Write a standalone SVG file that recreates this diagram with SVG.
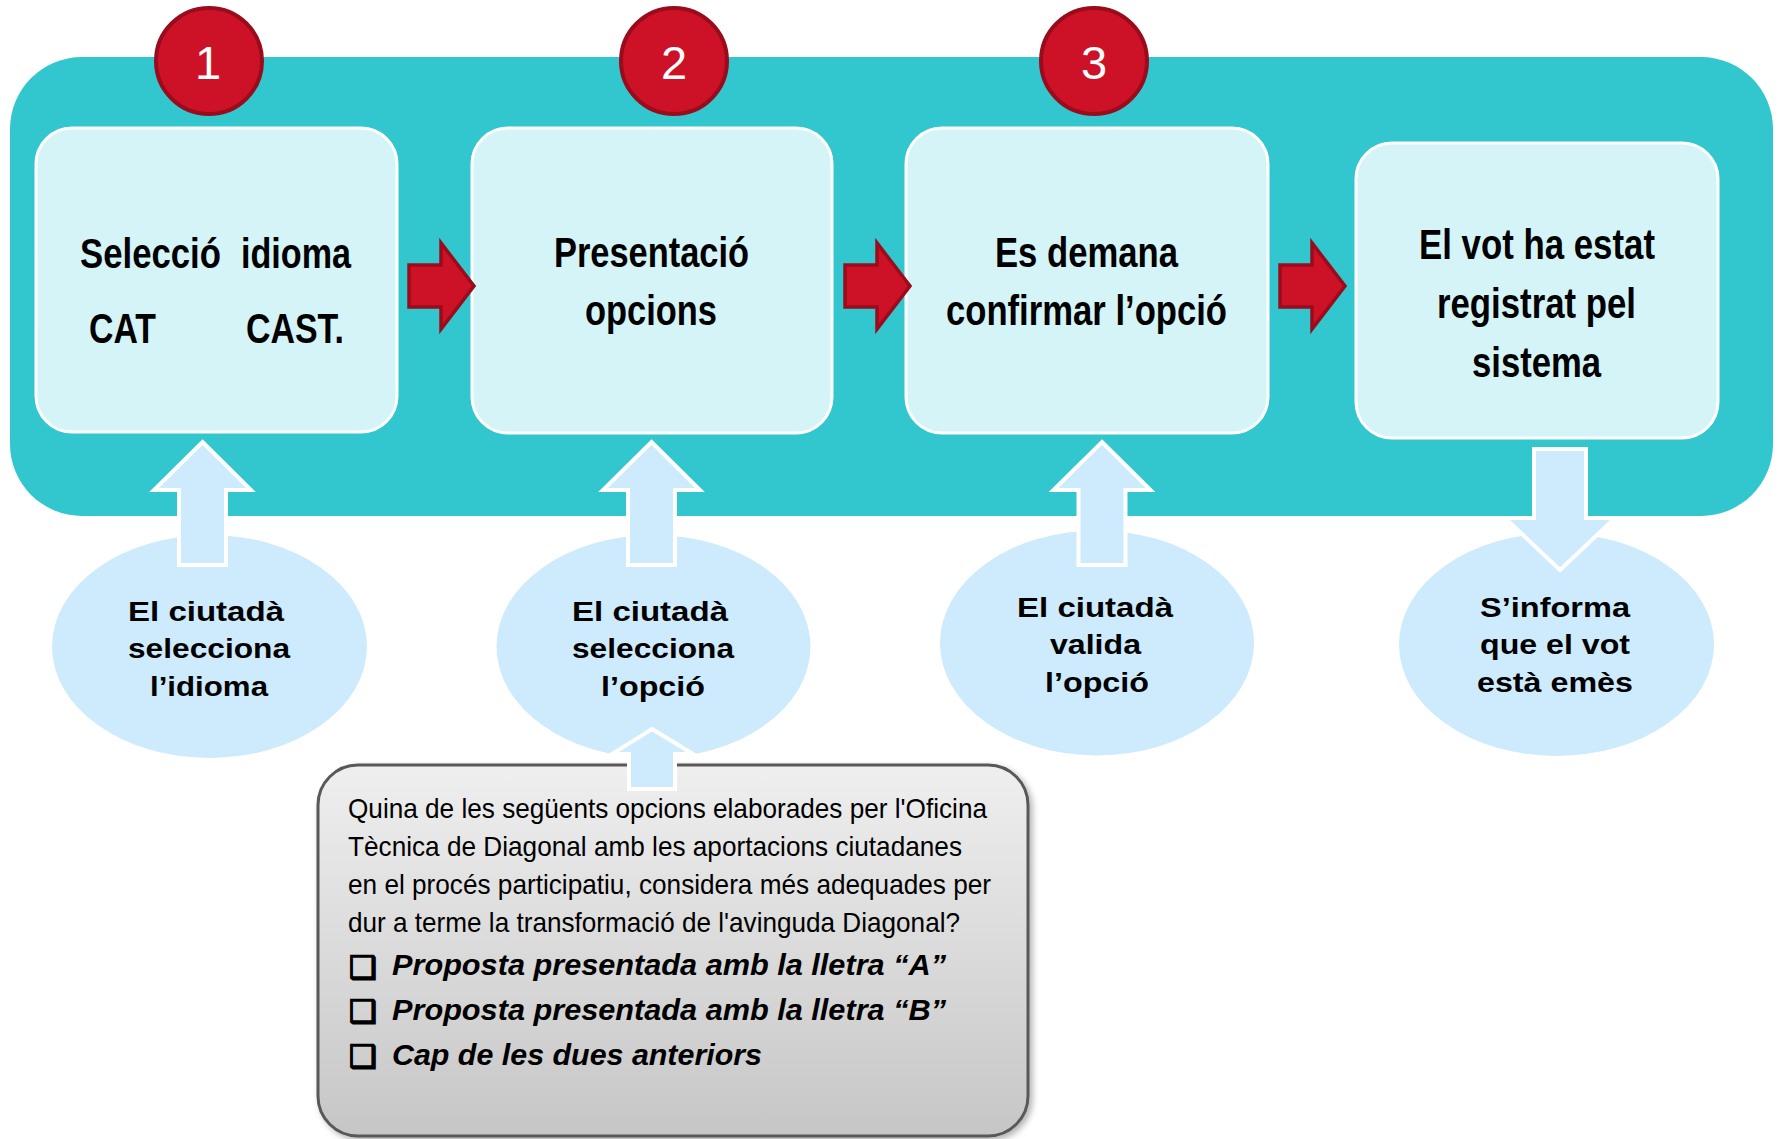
<svg xmlns="http://www.w3.org/2000/svg" width="1779" height="1139" viewBox="0 0 1779 1139">
<style>
.bg{fill:#32C6CE}
.box{fill:#D4F4F7;stroke:#FFFFFF;stroke-width:3}
.red{fill:#CD1228;stroke:#9A0C1C;stroke-width:4}
.redarrow{fill:#CD1228;stroke:#9A0C1C;stroke-width:3.5;stroke-linejoin:miter}
.num{font-family:"Liberation Sans",Arial,sans-serif;font-size:47px;fill:#FFFFFF;text-anchor:middle}
.bt{font-family:"Liberation Sans",Arial,sans-serif;font-weight:bold;font-size:43px;fill:#000}
.et{font-family:"Liberation Sans",Arial,sans-serif;font-weight:bold;font-size:28px;fill:#000}
.ell{fill:#CDEBFC}
.blue{fill:#CDEBFC;stroke:#FFFFFF;stroke-width:4;stroke-linejoin:miter}
.qt{font-family:"Liberation Sans",Arial,sans-serif;font-size:28px;fill:#000}
.ot{font-family:"Liberation Sans",Arial,sans-serif;font-weight:bold;font-style:italic;font-size:30px;fill:#000}
.cb{font-family:"DejaVu Sans",sans-serif;font-weight:bold;font-size:31px;fill:#000;stroke:#000;stroke-width:1.6}
</style>
<defs>
<linearGradient id="gray" x1="0" y1="0" x2="0" y2="1">
<stop offset="0" stop-color="#EFEFEF"/>
<stop offset="1" stop-color="#C6C6C6"/>
</linearGradient>
<filter id="shadow" x="-5%" y="-5%" width="115%" height="115%">
<feDropShadow dx="3" dy="3" stdDeviation="3" flood-color="#000" flood-opacity="0.3"/>
</filter>
</defs>

<rect class="bg" x="10" y="57" width="1763" height="459" rx="72" ry="72"/>

<g id="step1">
<rect class="box" x="36" y="128" width="361" height="304" rx="36" ry="36"/>
<text class="bt" x="80" y="268" textLength="141" lengthAdjust="spacingAndGlyphs">Selecció</text>
<text class="bt" x="241" y="268" textLength="110" lengthAdjust="spacingAndGlyphs">idioma</text>
<text class="bt" x="89" y="343" textLength="67" lengthAdjust="spacingAndGlyphs">CAT</text>
<text class="bt" x="246" y="343" textLength="98" lengthAdjust="spacingAndGlyphs">CAST.</text>
</g>
<g id="step2">
<rect class="box" x="472" y="128" width="360" height="305" rx="36" ry="36"/>
<text class="bt" x="554" y="267" textLength="195" lengthAdjust="spacingAndGlyphs">Presentació</text>
<text class="bt" x="585" y="325" textLength="132" lengthAdjust="spacingAndGlyphs">opcions</text>
</g>
<g id="step3">
<rect class="box" x="906" y="128" width="362" height="305" rx="36" ry="36"/>
<text class="bt" x="995" y="267" textLength="183" lengthAdjust="spacingAndGlyphs">Es demana</text>
<text class="bt" x="946" y="325" textLength="281" lengthAdjust="spacingAndGlyphs">confirmar l’opció</text>
</g>
<g id="step4">
<rect class="box" x="1356" y="143" width="362" height="295" rx="36" ry="36"/>
<text class="bt" x="1419" y="259" textLength="236" lengthAdjust="spacingAndGlyphs">El vot ha estat</text>
<text class="bt" x="1437" y="318" textLength="199" lengthAdjust="spacingAndGlyphs">registrat pel</text>
<text class="bt" x="1472" y="377" textLength="129" lengthAdjust="spacingAndGlyphs">sistema</text>
</g>

<g id="badge1">
<circle class="red" cx="209" cy="61" r="53"/>
<text class="num" x="208" y="79">1</text>
</g>
<g id="badge2">
<circle class="red" cx="674" cy="61" r="53"/>
<text class="num" x="674" y="79">2</text>
</g>
<g id="badge3">
<circle class="red" cx="1094" cy="61" r="53"/>
<text class="num" x="1094" y="79">3</text>
</g>

<g id="citizen1">
<ellipse class="ell" cx="209.5" cy="646.5" rx="157.5" ry="111.5"/>
<text class="et" x="128" y="621" textLength="156" lengthAdjust="spacingAndGlyphs">El ciutadà</text>
<text class="et" x="128" y="658" textLength="162" lengthAdjust="spacingAndGlyphs">selecciona</text>
<text class="et" x="150" y="696" textLength="118" lengthAdjust="spacingAndGlyphs">l’idioma</text>
</g>
<g id="citizen2">
<ellipse class="ell" cx="653.5" cy="646.5" rx="157" ry="111.5"/>
<text class="et" x="572" y="621" textLength="156" lengthAdjust="spacingAndGlyphs">El ciutadà</text>
<text class="et" x="572" y="658" textLength="162" lengthAdjust="spacingAndGlyphs">selecciona</text>
<text class="et" x="601" y="696" textLength="104" lengthAdjust="spacingAndGlyphs">l’opció</text>
</g>
<g id="citizen3">
<ellipse class="ell" cx="1097" cy="643" rx="157" ry="112.5"/>
<text class="et" x="1017" y="617" textLength="156" lengthAdjust="spacingAndGlyphs">El ciutadà</text>
<text class="et" x="1050" y="654" textLength="91" lengthAdjust="spacingAndGlyphs">valida</text>
<text class="et" x="1045" y="692" textLength="104" lengthAdjust="spacingAndGlyphs">l’opció</text>
</g>
<g id="inform">
<ellipse class="ell" cx="1556.5" cy="644.5" rx="157.5" ry="111.5"/>
<text class="et" x="1480" y="617" textLength="150" lengthAdjust="spacingAndGlyphs">S’informa</text>
<text class="et" x="1480" y="654" textLength="150" lengthAdjust="spacingAndGlyphs">que el vot</text>
<text class="et" x="1477" y="692" textLength="156" lengthAdjust="spacingAndGlyphs">està emès</text>
</g>

<g id="question" filter="url(#shadow)">
<rect x="318" y="765" width="710" height="371" rx="40" ry="40" fill="url(#gray)" stroke="#595959" stroke-width="3"/>
</g>
<g id="question-text">
<text class="qt" x="348" y="818" textLength="639" lengthAdjust="spacingAndGlyphs">Quina de les següents opcions elaborades per l'Oficina</text>
<text class="qt" x="348" y="856" textLength="614" lengthAdjust="spacingAndGlyphs">Tècnica de Diagonal amb les aportacions ciutadanes</text>
<text class="qt" x="348" y="894" textLength="643" lengthAdjust="spacingAndGlyphs">en el procés participatiu, considera més adequades per</text>
<text class="qt" x="348" y="932" textLength="612" lengthAdjust="spacingAndGlyphs">dur a terme la transformació de l'avinguda Diagonal?</text>
<text class="cb" x="349" y="978">❑</text>
<text class="ot" x="392" y="975" textLength="554" lengthAdjust="spacingAndGlyphs">Proposta presentada amb la lletra “A”</text>
<text class="cb" x="349" y="1022">❑</text>
<text class="ot" x="392" y="1020" textLength="554" lengthAdjust="spacingAndGlyphs">Proposta presentada amb la lletra “B”</text>
<text class="cb" x="349" y="1067">❑</text>
<text class="ot" x="392" y="1065" textLength="370" lengthAdjust="spacingAndGlyphs">Cap de les dues anteriors</text>
</g>

<g id="connectors">
<path class="redarrow" d="M409,265 L441,265 L441,243 L474,286 L441,329 L441,307 L409,307 Z"/>
<path class="redarrow" d="M409,265 L441,265 L441,243 L474,286 L441,329 L441,307 L409,307 Z" transform="translate(436,0)"/>
<path class="redarrow" d="M409,265 L441,265 L441,243 L474,286 L441,329 L441,307 L409,307 Z" transform="translate(871,0)"/>
<path class="blue" d="M202.5,442 L251,490 L226,490 L226,565 L179,565 L179,490 L154,490 Z"/>
<path class="blue" d="M202.5,442 L251,490 L226,490 L226,565 L179,565 L179,490 L154,490 Z" transform="translate(449,0)"/>
<path class="blue" d="M202.5,442 L251,490 L226,490 L226,565 L179,565 L179,490 L154,490 Z" transform="translate(899.5,0)"/>
<path class="blue" d="M1534,449 L1586,449 L1586,518 L1615,518 L1560,570 L1505,518 L1534,518 Z"/>
<path class="blue" d="M652,729 L693,754 L675,754 L675,789 L629,789 L629,754 L612,754 Z"/>
</g>
</svg>
